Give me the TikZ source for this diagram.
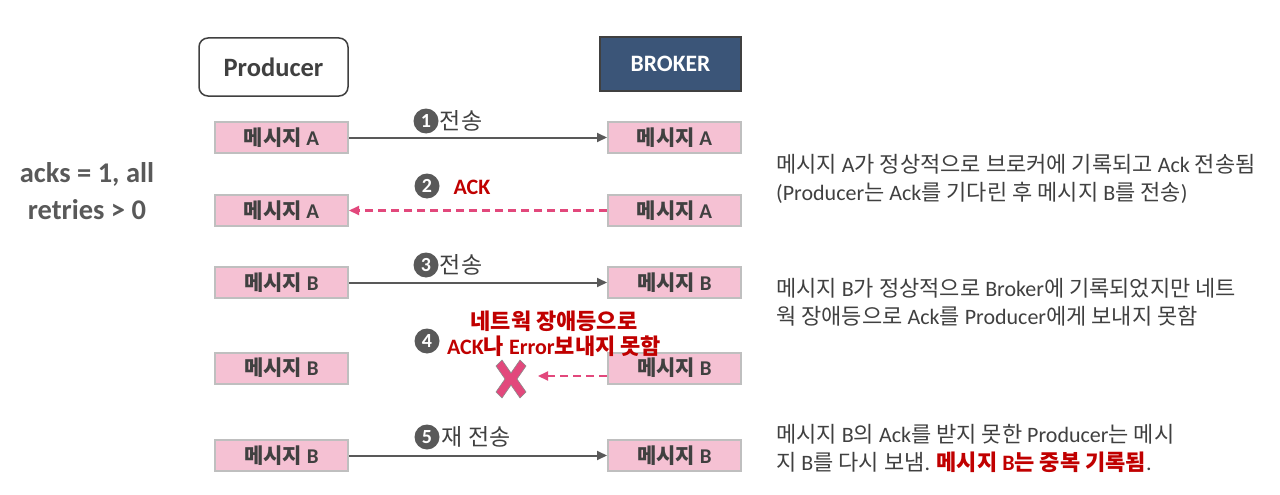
\documentclass[tikz,border=0pt]{standalone}
\usepackage{fontspec}
\setmainfont{Carlito}
\newfontfamily\hangul{Noto Sans CJK KR}
\usetikzlibrary{arrows.meta, positioning}

\definecolor{msgPink}{HTML}{F5C1D3}
\definecolor{boxGray}{HTML}{BFBFBF}
\definecolor{textGray}{HTML}{404040}
\definecolor{stepGray}{HTML}{595959}
\definecolor{ackPink}{HTML}{E2487C}
\definecolor{darkRed}{HTML}{C00000}
\definecolor{brokerBlue}{HTML}{3B5578}

% Hangul in Noto Sans CJK KR, the rest in Carlito
\XeTeXinterchartokenstate=1
\newXeTeXintercharclass\HangulClass
\count255="AC00
\loop
  \XeTeXcharclass\count255=\HangulClass
  \ifnum\count255<"D7A3 \advance\count255 by 1 \repeat
\XeTeXinterchartoks 0 \HangulClass = {\hangul}
\XeTeXinterchartoks 4095 \HangulClass = {\hangul}
\XeTeXinterchartoks \HangulClass 0 = {\rmfamily}
\XeTeXinterchartoks \HangulClass 4095 = {\rmfamily}

\newcommand{\fsz}[1]{\fontsize{#1}{#1}\selectfont}

\begin{document}
\begin{tikzpicture}[
    x=1pt, y=-1pt,
    msgbox/.style={rectangle, draw=boxGray, fill=msgPink, line width=2pt,
                   minimum width=133pt, minimum height=31pt, inner sep=0pt,
                   text=textGray, font=\fsz{21}\bfseries},
    stepnum/.style={circle, fill=stepGray, text=white, inner sep=0pt,
                    minimum size=25pt, font=\fsz{20}\bfseries},
    steptext/.style={text=textGray, font=\fsz{23}, inner sep=1pt},
    sendarrow/.style={-{Triangle[length=10pt, width=9pt]}, line width=2pt, stepGray},
    ackarrow/.style={-{Triangle[length=10pt, width=9pt]}, line width=2.2pt, ackPink,
                     dash pattern=on 8pt off 5pt},
    note/.style={anchor=west, align=left, text=textGray, font=\fsz{22}, inner sep=0pt}
  ]
    \useasboundingbox (0,0) rectangle (1280,495);

    % headers
    \node[draw=textGray, line width=1.5pt, rounded corners=9pt, fill=white,
          minimum width=149pt, minimum height=58pt, text=textGray,
          font=\fsz{26.5}\bfseries] (producer) at (273.5,67) {Producer};
    \node[draw=textGray, line width=1.5pt, fill=brokerBlue,
          minimum width=141pt, minimum height=54pt, text=white,
          font=\fsz{23.5}\bfseries] (broker) at (670.5,64) {BROKER};

    % messages
    \node[msgbox] (pA1) at (281.5,137.5) {메시지 A};
    \node[msgbox] (bA1) at (674.5,137.5) {메시지 A};
    \node[msgbox] (pA2) at (281.5,210.5) {메시지 A};
    \node[msgbox] (bA2) at (674.5,210.5) {메시지 A};
    \node[msgbox] (pB3) at (281.5,282.5) {메시지 B};
    \node[msgbox] (bB3) at (674.5,282.5) {메시지 B};
    \node[msgbox] (pB4) at (281.5,368) {메시지 B};
    \node[msgbox] (bB4) at (674.5,368) {메시지 B};
    \node[msgbox] (pB5) at (281.5,455.5) {메시지 B};
    \node[msgbox] (bB5) at (674.5,455.5) {메시지 B};

    % 1 send
    \draw[sendarrow] (pA1) -- (bA1);
    \node[stepnum] (s1) at (426,121) {1};
    \node[steptext, right=0pt of s1] (send1) {전송};

    % 2 ack
    \draw[ackarrow] (bA2) -- (pA2);
    \node[stepnum] (s2) at (427,186) {2};
    \node[text=darkRed, font=\fsz{22}\bfseries] (ack2) at (472,187) {ACK};

    % 3 send
    \draw[sendarrow] (pB3) -- (bB3);
    \node[stepnum] (s3) at (426,265) {3};
    \node[steptext, right=0pt of s3] (send3) {전송};

    % 4 lost
    \node[stepnum] (s4) at (427,341) {4};
    \node[align=center, text=darkRed, font=\fsz{22}\bfseries] (fail4) at (554,334)
      {네트웍 장애등으로\\[3pt]ACK나 Error보내지 못함};
    \coordinate (lost) at (538,376);
    \draw[ackarrow] (bB4.west |- lost) -- (lost);
    \draw[fill=ackPink, draw=stepGray!70, line width=0.6pt, shift={(511,379)}]
      (-15,-13) -- (-9,-19) -- (0,-6) -- (9,-19) -- (15,-13) -- (6,0) --
      (15,13) -- (9,19) -- (0,6) -- (-9,19) -- (-15,13) -- (-6,0) -- cycle;

    % 5 resend
    \draw[sendarrow] (pB5) -- (bB5);
    \node[stepnum] (s5) at (427,437) {5};
    \node[steptext, right=1pt of s5] (send5) {재 전송};

    % settings
    \node[align=center, text=stepGray, font=\fsz{28.5}\bfseries] (acks) at (87,191)
      {acks = 1, all\\[9pt]retries > 0};

    % notes
    \node[note] (note1) at (776,179)
      {메시지 A가 정상적으로 브로커에 기록되고 Ack 전송됨\\[6pt]
       (Producer는 Ack를 기다린 후 메시지 B를 전송)};
    \node[note] (note2) at (776,302)
      {메시지 B가 정상적으로 Broker에 기록되었지만 네트\\[6pt]
       웍 장애등으로 Ack를 Producer에게 보내지 못함};
    \node[note] (note3) at (776,448)
      {메시지 B의 Ack를 받지 못한 Producer는 메시\\[6pt]
       지 B를 다시 보냄. {\bfseries\color{darkRed}메시지 B는 중복 기록됨}.};
\end{tikzpicture}
\end{document}
